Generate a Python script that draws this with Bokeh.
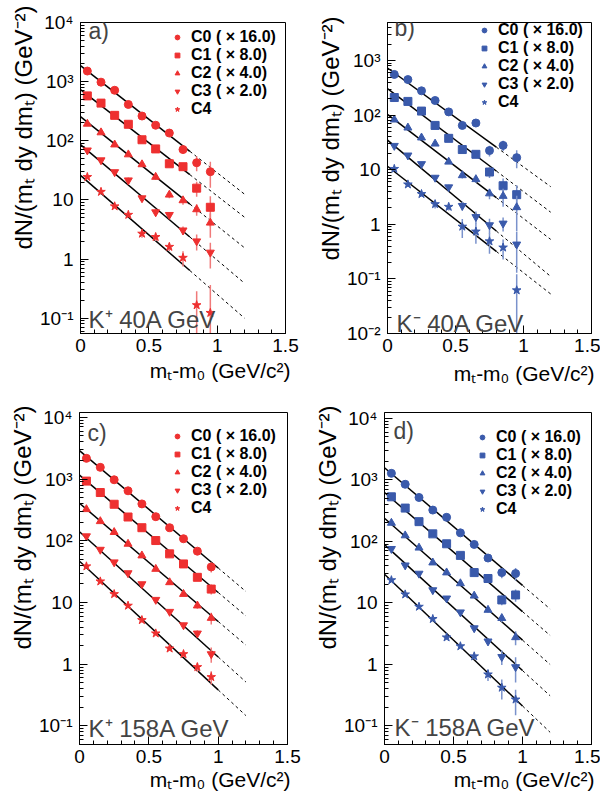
import numpy as np
from bokeh.plotting import figure
from bokeh.models import Range1d, FixedTicker, Label, Title
from bokeh.layouts import column, row
from bokeh.embed import file_html
from bokeh.resources import INLINE

# ---------------- data ----------------
mt = [0.05, 0.15, 0.25, 0.35, 0.45, 0.55, 0.65, 0.75, 0.85, 0.95]
class_labels = ["C0 ( \u00d7 16.0)", "C1 ( \u00d7 8.0)", "C2 ( \u00d7 4.0)", "C3 ( \u00d7 2.0)", "C4"]
x_ticks = [0, 0.5, 1, 1.5]
x_tick_labels = ["0", "0.5", "1", "1.5"]
fit_x_max = 1.2

# a) K+ 40A GeV
kp40_c0 = [1510, 980, 714, 411, 262, 183, 135, 71, 42.5, 30]
kp40_c1 = [574, 433, 269, 190, 104, 72.8, 40.8, 36.4, 15.8, 7.5]
kp40_c2 = [193, 138, 86, 58.5, 39.8, 24.4, 12.2, 9.8, 6.9, 4.1]
kp40_c3 = [69, 47, 29.6, 21.5, 10.7, 6.2, 5.6, 3.06, 2.0, 1.29]
kp40_c4 = [24.4, 13.7, 7.8, 5.6, 2.69, 2.36, 1.61, 1.05, 0.166, 0.123]
kp40_c0_err = [60, 40, 30, 20, 14, 12, 12, 10, 12, 14]
kp40_c1_err = [25, 20, 12, 9, 6, 5, 4, 3.5, 4.5, 4]
kp40_c2_err = [8, 6, 4, 3, 3, 2.5, 1.5, 1.5, 1.5, 1.8]
kp40_c3_err = [3, 2, 1.5, 2.5, 1.0, 0.9, 0.6, 0.5, 0.6, 0.6]
kp40_c4_err = [1.2, 0.8, 0.6, 0.5, 0.4, 0.35, 0.25, 0.3, 0.12, 0.24]
kp40_fit_at0 = [1870, 733, 256, 86, 26]
kp40_fit_at12 = [12.5, 5.1, 1.55, 0.39, 0.10]
kp40_fit_solid_end = 0.8

# b) K- 40A GeV
km40_c0 = [559, 450, 280, 186, 115, 65, 72, 22.5, 28, 16.7]
km40_c1 = [211, 179, 119, 65, 37.7, 23.5, 19.2, 9.1, 5.1, 3.5]
km40_c2 = [82.7, 59, 38.8, 30, 14, 7.9, 6.7, 3.67, 3.3, 2.05]
km40_c3 = [27.6, 18.4, 12.8, 7.2, 4.8, 2.19, 1.37, 0.97, 1.04, 0.43]
km40_c4 = [10.4, 5.4, 3.6, 2.35, 2.1, 0.91, 0.74, 0.49, 0.377, 0.062]
km40_c0_err = [25, 20, 14, 10, 10, 8, 10, 5, 6, 6]
km40_c1_err = [10, 8, 6, 4, 3, 2.5, 2.5, 2, 1.8, 1.7]
km40_c2_err = [4, 3, 2, 2.5, 1.2, 1.0, 1.0, 0.8, 1.2, 1.3]
km40_c3_err = [1.5, 1.2, 1.0, 0.7, 0.5, 0.4, 0.35, 0.3, 0.3, 0.3]
km40_c4_err = [0.6, 0.5, 0.4, 0.4, 0.3, 0.35, 0.3, 0.2, 0.15, 0.06]
km40_fit_at0 = [733, 308, 104, 35, 11.6]
km40_fit_at12 = [4.9, 1.67, 0.53, 0.111, 0.053]
km40_fit_solid_end = 0.8

# c) K+ 158A GeV
kp158_c0 = [2170, 1550, 975, 646, 396, 246, 163, 108, 67.9, 37.7]
kp158_c1 = [928, 606, 391, 243, 163, 101, 61.4, 42.2, 25.6, 16.5]
kp158_c2 = [324, 207, 138, 89, 57.6, 34.9, 21.2, 13.7, 8.9, 5.6]
kp158_c3 = [119, 72, 45, 30, 19.9, 11.1, 7.1, 4.3, 3.16, 1.46]
kp158_c4 = [38.6, 22, 13.7, 8.9, 5.2, 3.16, 1.8, 1.46, 0.9, 0.62]
kp158_c0_err = [50, 40, 25, 18, 12, 8, 6, 5, 8, 7]
kp158_c1_err = [25, 15, 10, 7, 5, 3.5, 3, 2.5, 3, 3]
kp158_c2_err = [8, 5, 4, 3, 2, 1.5, 1, 0.8, 1, 1.2]
kp158_c3_err = [3, 2, 1.5, 1, 0.7, 0.5, 0.4, 0.4, 0.4, 0.4]
kp158_c4_err = [1, 0.7, 0.5, 0.4, 0.25, 0.15, 0.15, 0.15, 0.15, 0.15]
kp158_fit_at0 = [2900, 1160, 406, 140, 46.6]
kp158_fit_at12 = [15.1, 6.06, 2.04, 0.515, 0.147]
kp158_fit_solid_end = 1.0

# d) K- 158A GeV
km158_c0 = [1282, 851, 519, 324, 247, 138, 89.5, 53.8, 31.2, 30.1]
km158_c1 = [532, 349, 210, 133, 91.7, 59.4, 31.2, 25, 11.2, 13.5]
km158_c2 = [200, 125, 79, 45.3, 31.2, 20.8, 13.1, 7.7, 5.66, 2.76]
km158_c3 = [76, 41, 30.1, 16.2, 11.9, 7.07, 3.9, 2.38, 1.33, 0.91]
km158_c4 = [23.5, 13.8, 8.7, 5.5, 2.76, 1.98, 1.36, 0.69, 0.42, 0.27]
km158_c0_err = [30, 20, 13, 9, 7, 5, 4, 5, 6, 7]
km158_c1_err = [14, 9, 6, 4, 3, 2.5, 2, 2, 2, 3]
km158_c2_err = [5, 3.5, 2.5, 1.8, 1.3, 1, 0.8, 0.7, 0.8, 0.7]
km158_c3_err = [2, 1.3, 1, 0.7, 0.6, 0.4, 0.3, 0.3, 0.35, 0.4]
km158_c4_err = [0.7, 0.5, 0.4, 0.3, 0.25, 0.15, 0.15, 0.15, 0.15, 0.12]
km158_fit_at0 = [1580, 625, 238, 89, 29.4]
km158_fit_at12 = [8.0, 2.97, 1.0, 0.31, 0.079]
km158_fit_solid_end = 1.0

# ---------------- styling ----------------
FONT = "Liberation Sans"
RED, RED_ERR = "#ee3030", "#f07a7a"
BLUE, BLUE_ERR = "#3a5aab", "#7a92cc"
MARKERS = ["circle", "square", "triangle", "inverted_triangle", "star"]
MSIZES = [8, 8, 8, 8, 9]
SUP = {-2: "10\u207b\u00b2", -1: "10\u207b\u00b9", 0: "1", 1: "10", 2: "10\u00b2", 3: "10\u00b3", 4: "10\u2074"}
Y_TITLE = "dN/(m\u209c dy dm\u209c) (GeV\u207b\u00b2)"
X_TITLE = "m\u209c-m\u2080 (GeV/c\u00b2)"


def make_panel(series, errors, fit0, fit12, solid_end, color, ecolor, ylo, yhi,
               width, height, borders, letter, title, legend_loc,
               letter_pos, title_pos, ytitle_cfg, xtitle_cfg):
    bl, br, bt, bb = borders
    p = figure(width=width, height=height, x_axis_type="linear", y_axis_type="log",
               x_range=Range1d(0, 1.5), y_range=Range1d(ylo, yhi),
               output_backend="svg", toolbar_location=None,
               min_border_left=bl, min_border_right=br, min_border_top=bt, min_border_bottom=bb)
    p.xgrid.visible = False
    p.ygrid.visible = False
    p.outline_line_color = "black"
    p.outline_line_width = 1
    p.background_fill_color = "white"
    p.border_fill_color = "white"

    # x axis
    p.xaxis.ticker = FixedTicker(ticks=x_ticks, minor_ticks=[i / 10 for i in range(0, 16)])
    p.xaxis.major_label_overrides = {t: s for t, s in zip(x_ticks, x_tick_labels)}
    # y axis
    lo_e = int(np.floor(np.log10(ylo)))
    hi_e = int(np.ceil(np.log10(yhi)))
    majors = [10.0 ** e for e in range(lo_e, hi_e + 1) if ylo <= 10.0 ** e <= yhi * 1.001]
    minors = [m * 10.0 ** e for e in range(lo_e, hi_e + 1) for m in range(2, 10)]
    p.yaxis.ticker = FixedTicker(ticks=majors, minor_ticks=minors)
    p.yaxis.major_label_overrides = {10.0 ** e: SUP[e] for e in range(lo_e, hi_e + 1)
                                     if ylo <= 10.0 ** e <= yhi * 1.001}
    for ax in (p.xaxis, p.yaxis):
        ax.major_tick_in = 8
        ax.major_tick_out = 0
        ax.minor_tick_in = 4
        ax.minor_tick_out = 0
        ax.axis_line_color = "black"
        ax.major_tick_line_color = "black"
        ax.minor_tick_line_color = "black"
        ax.major_label_text_font = FONT
        ax.major_label_text_font_size = "19px"
        ax.major_label_text_color = "black"
    p.xaxis.major_label_standoff = 5
    p.yaxis.major_label_standoff = 7

    # fit lines
    for f0, f12 in zip(fit0, fit12):
        xs_solid = [0.0, solid_end]
        xs_dash = [solid_end, fit_x_max]
        fy = lambda x: f0 * (f12 / f0) ** (x / fit_x_max)
        p.line(xs_solid, [fy(x) for x in xs_solid], line_color="black", line_width=1.5)
        p.line(xs_dash, [fy(x) for x in xs_dash], line_color="black", line_width=1,
               line_dash="3 3")

    # data points with error bars
    for vals, errs, mk, ms, lab in zip(series, errors, MARKERS, MSIZES, class_labels):
        lo = [max(v - e, ylo * 0.3) for v, e in zip(vals, errs)]
        hi = [v + e for v, e in zip(vals, errs)]
        p.segment(x0=mt, y0=lo, x1=mt, y1=hi, line_color=ecolor, line_width=1.5)
        p.scatter(mt, vals, marker=mk, size=ms, fill_color=color, line_color=color,
                  legend_label=lab)

    lg = p.legend[0]
    lg.location = legend_loc
    lg.background_fill_alpha = 0
    lg.border_line_alpha = 0
    lg.padding = 0
    lg.margin = 0
    lg.spacing = 0
    lg.label_height = 18
    lg.glyph_height = 18
    lg.glyph_width = 12
    lg.label_standoff = 8
    lg.label_text_font = FONT
    lg.label_text_font_size = "16px"
    lg.label_text_font_style = "bold"
    lg.label_text_color = "black"

    p.add_layout(Label(x=letter_pos[0], y=letter_pos[1], x_units="screen", y_units="screen",
                       text=letter, text_font=FONT, text_font_size="23px",
                       text_baseline="middle", text_align="left"))
    p.add_layout(Label(x=title_pos[0], y=title_pos[1], x_units="screen", y_units="screen",
                       text=title, text_font=FONT, text_font_size="24px",
                       text_baseline="middle", text_align="left"))
    ys, yo = ytitle_cfg
    p.add_layout(Title(text=Y_TITLE, align="right", offset=yo, standoff=ys,
                       text_font=FONT, text_font_size="24px", text_font_style="normal",
                       text_color="black"), "left")
    xs, xo = xtitle_cfg
    p.add_layout(Title(text=X_TITLE, align="right", offset=xo, standoff=xs,
                       text_font=FONT, text_font_size="21px", text_font_style="normal",
                       text_color="black"), "below")
    return p


pa = make_panel([kp40_c0, kp40_c1, kp40_c2, kp40_c3, kp40_c4],
                [kp40_c0_err, kp40_c1_err, kp40_c2_err, kp40_c3_err, kp40_c4_err],
                kp40_fit_at0, kp40_fit_at12, kp40_fit_solid_end, RED, RED_ERR, 0.055, 1e4,
                304, 400, (80, 19, 22, 64), "a)", "K\u207a 40A GeV", (91, 215),
                (8, 303), (8, 14), (1, -17), (4, -5))
pb = make_panel([km40_c0, km40_c1, km40_c2, km40_c3, km40_c4],
                [km40_c0_err, km40_c1_err, km40_c2_err, km40_c3_err, km40_c4_err],
                km40_fit_at0, km40_fit_at12, km40_fit_solid_end, BLUE, BLUE_ERR, 0.01, 5000,
                296, 400, (83, 9, 11, 67), "b)", "K\u207b 40A GeV", (91, 222),
                (7, 306), (9, 10), (1, -6), (10, -3))
pc = make_panel([kp158_c0, kp158_c1, kp158_c2, kp158_c3, kp158_c4],
                [kp158_c0_err, kp158_c1_err, kp158_c2_err, kp158_c3_err, kp158_c4_err],
                kp158_fit_at0, kp158_fit_at12, kp158_fit_solid_end, RED, RED_ERR, 0.05, 1.2e4,
                304, 400, (79, 17, 12, 56), "c)", "K\u207a 158A GeV", (92, 227),
                (8, 312), (9, 16), (1, -7), (0, -3))
pd = make_panel([km158_c0, km158_c1, km158_c2, km158_c3, km158_c4],
                [km158_c0_err, km158_c1_err, km158_c2_err, km158_c3_err, km158_c4_err],
                km158_fit_at0, km158_fit_at12, km158_fit_solid_end, BLUE, BLUE_ERR, 0.05, 1.25e4,
                296, 400, (80, 9, 12, 53), "d)", "K\u207b 158A GeV", (92, 226),
                (9, 314), (10, 17), (1, -7), (0, -3))

layout = column(row(pa, pb), row(pc, pd))
open("out.html", "w").write(file_html(layout, INLINE))
